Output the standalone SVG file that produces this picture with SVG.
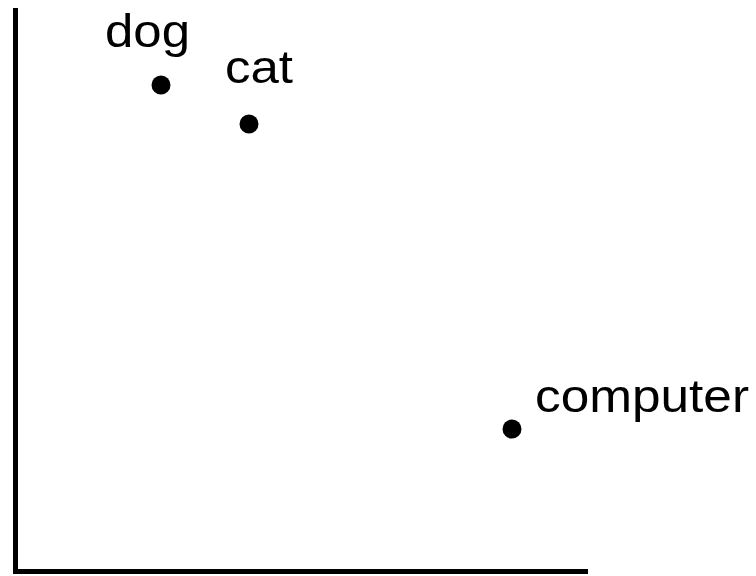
<svg xmlns="http://www.w3.org/2000/svg" width="756" height="576" viewBox="0 0 756 576">
<style>
.lbl{font-family:"Liberation Sans",Arial,sans-serif;font-size:46px;fill:#000}
.pt{fill:#000}
.axis{stroke:#000;stroke-width:5;fill:none}
</style>
<rect width="756" height="576" fill="#fff"/>
<g id="axes">
<path class="axis" d="M15.5,8 V571.5 H588"/>
</g>
<g id="dog"><circle class="pt" cx="161" cy="85" r="9.5"/><text class="lbl" x="105" y="47" textLength="85" lengthAdjust="spacingAndGlyphs">dog</text></g>
<g id="cat"><circle class="pt" cx="249" cy="124" r="9.5"/><text class="lbl" x="225" y="83" textLength="68" lengthAdjust="spacingAndGlyphs">cat</text></g>
<g id="computer"><circle class="pt" cx="512" cy="429" r="9.5"/><text class="lbl" x="535" y="412" textLength="214" lengthAdjust="spacingAndGlyphs">computer</text></g>
</svg>
